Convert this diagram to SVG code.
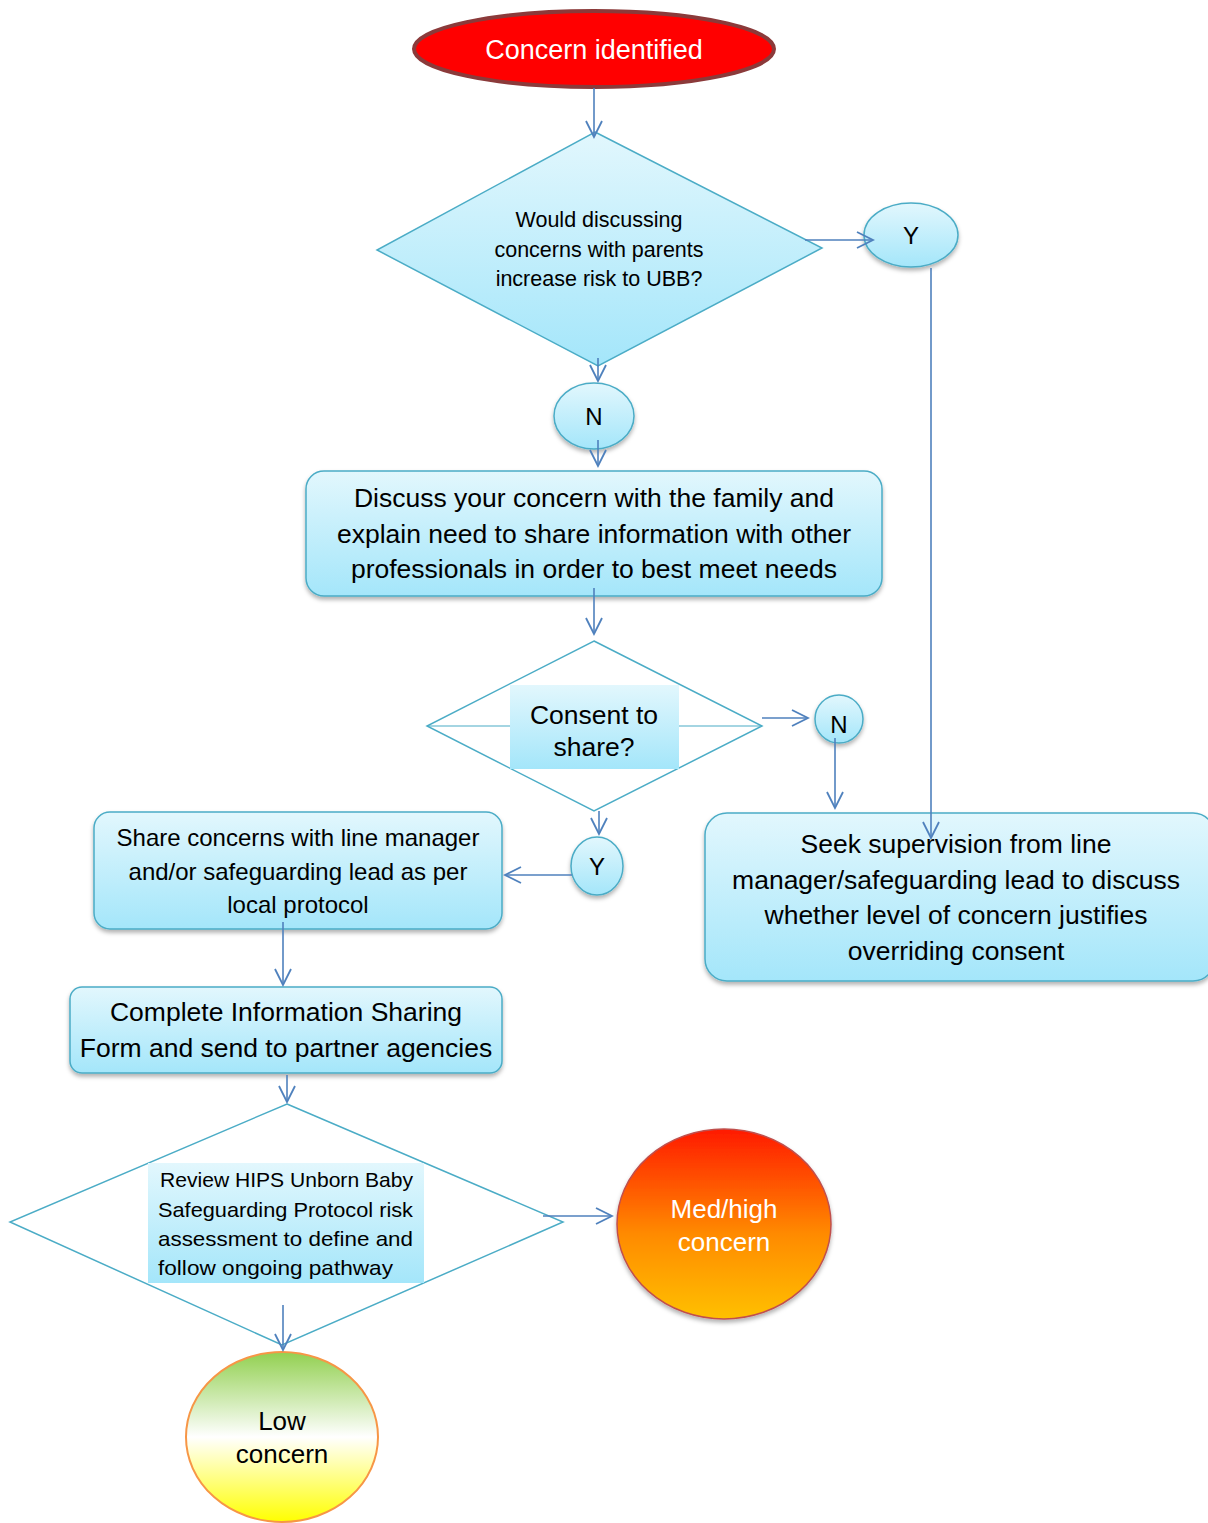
<svg xmlns="http://www.w3.org/2000/svg" width="1208" height="1523" viewBox="0 0 1208 1523">
<defs>
<linearGradient id="cyan" x1="0" y1="0" x2="0" y2="1">
<stop offset="0" stop-color="#E2F7FD"/>
<stop offset="1" stop-color="#A4E6FA"/>
</linearGradient>
<linearGradient id="hot" x1="0" y1="0" x2="0" y2="1">
<stop offset="0" stop-color="#FF1A00"/>
<stop offset="0.55" stop-color="#FF8A00"/>
<stop offset="1" stop-color="#FFC000"/>
</linearGradient>
<linearGradient id="low" x1="0" y1="0" x2="0" y2="1">
<stop offset="0" stop-color="#92D050"/>
<stop offset="0.5" stop-color="#FFFFFF"/>
<stop offset="1" stop-color="#FFFF00"/>
</linearGradient>
<filter id="sh" x="-10%" y="-10%" width="120%" height="130%">
<feDropShadow dx="0" dy="3" stdDeviation="2" flood-color="#000" flood-opacity="0.3"/>
</filter>
<marker id="ah" viewBox="0 0 20 20" refX="18" refY="10" markerWidth="20" markerHeight="20" markerUnits="userSpaceOnUse" orient="auto">
<path d="M2,2 L18,10 L2,18" fill="none" stroke="#4F81BD" stroke-width="1.8"/>
</marker>
<style>
.box{fill:url(#cyan);stroke:#4BACC6;stroke-width:1.5;filter:url(#sh)}
.dia{fill:#fff;stroke:#4BACC6;stroke-width:1.5}
.c{stroke:#4F81BD;stroke-width:1.6;fill:none;marker-end:url(#ah)}
text{font-family:"Liberation Sans",Arial,sans-serif;fill:#000;text-anchor:middle}
.t26{font-size:26.5px}
.t24{font-size:24px}
.t20{font-size:21.5px}
.t21{font-size:21px;text-anchor:start}
</style>
</defs>

<g id="concern-identified">
<ellipse cx="594" cy="49" rx="180" ry="38" fill="#FF0000" stroke="#8B3A3A" stroke-width="4"/>
<text x="594" y="59" font-size="27" style="fill:#fff">Concern identified</text>
</g>

<g id="decision-risk">
<polygon points="595,132 822,248 598,366 377,250" fill="url(#cyan)" stroke="#4BACC6" stroke-width="1.5"/>
<text class="t20" x="599" y="227">Would discussing</text>
<text class="t20" x="599" y="257">concerns with parents</text>
<text class="t20" x="599" y="286">increase risk to UBB?</text>
</g>

<g id="y1">
<ellipse cx="911" cy="235" rx="47" ry="32" class="box"/>
<text class="t24" x="911" y="244">Y</text>
</g>

<g id="n1">
<ellipse cx="594" cy="416" rx="40" ry="33" class="box"/>
<text class="t24" x="594" y="425">N</text>
</g>

<g id="discuss-family">
<rect x="306" y="471" width="576" height="125" rx="18" class="box"/>
<text class="t26" x="594" y="507">Discuss your concern with the family and</text>
<text class="t26" x="594" y="543">explain need to share information with other</text>
<text class="t26" x="594" y="578">professionals in order to best meet needs</text>
</g>

<g id="decision-consent">
<polygon points="594,641 762,726 594,811 427,726" class="dia"/>
<line x1="427" y1="726" x2="762" y2="726" stroke="#4BACC6" stroke-width="1.2"/>
<rect x="510" y="685" width="169" height="84" fill="url(#cyan)"/>
<text class="t26" x="594" y="724">Consent to</text>
<text class="t26" x="594" y="756">share?</text>
</g>

<g id="n2">
<circle cx="839" cy="719" r="24" class="box"/>
<text class="t24" x="839" y="733">N</text>
</g>

<g id="y2">
<ellipse cx="597" cy="866" rx="26" ry="29" class="box"/>
<text class="t24" x="597" y="875">Y</text>
</g>

<g id="share-concerns">
<rect x="94" y="812" width="408" height="117" rx="16" class="box"/>
<text class="t24" x="298" y="846">Share concerns with line manager</text>
<text class="t24" x="298" y="880">and/or safeguarding lead as per</text>
<text class="t24" x="298" y="913">local protocol</text>
</g>

<g id="seek-supervision">
<rect x="705" y="813" width="510" height="168" rx="22" class="box"/>
<text class="t26" x="956" y="853">Seek supervision from line</text>
<text class="t26" x="956" y="889">manager/safeguarding lead to discuss</text>
<text class="t26" x="956" y="924">whether level of concern justifies</text>
<text class="t26" x="956" y="960">overriding consent</text>
</g>

<g id="complete-form">
<rect x="70" y="987" width="432" height="86" rx="12" class="box"/>
<text class="t26" x="286" y="1021">Complete Information Sharing</text>
<text class="t26" x="286" y="1057">Form and send to partner agencies</text>
</g>

<g id="decision-review">
<polygon points="287,1104 563,1222 282,1345 10,1222" class="dia"/>
<rect x="148" y="1163" width="276" height="120" fill="url(#cyan)"/>
<text class="t21" x="160" y="1187" textLength="253" lengthAdjust="spacingAndGlyphs">Review HIPS Unborn Baby</text>
<text class="t21" x="158" y="1217" textLength="255" lengthAdjust="spacingAndGlyphs">Safeguarding Protocol risk</text>
<text class="t21" x="158" y="1246" textLength="255" lengthAdjust="spacingAndGlyphs">assessment to define and</text>
<text class="t21" x="158" y="1275" textLength="235" lengthAdjust="spacingAndGlyphs">follow ongoing pathway</text>
</g>

<g id="med-high">
<ellipse cx="724" cy="1224" rx="107" ry="95" fill="url(#hot)" stroke="#C0504D" stroke-width="1.5" filter="url(#sh)"/>
<text x="724" y="1218" font-size="26" style="fill:#fff">Med/high</text>
<text x="724" y="1251" font-size="26" style="fill:#fff">concern</text>
</g>

<g id="low-concern">
<ellipse cx="282" cy="1437" rx="96" ry="85" fill="url(#low)" stroke="#F79646" stroke-width="2"/>
<text x="282" y="1430" font-size="26">Low</text>
<text x="282" y="1463" font-size="26">concern</text>
</g>

<g id="connectors">
<line x1="594" y1="88" x2="594" y2="137" class="c"/>
<line x1="805" y1="240" x2="873" y2="240" class="c"/>
<polyline points="931,268 931,838" class="c"/>
<line x1="598" y1="358" x2="598" y2="381" class="c"/>
<line x1="598" y1="440" x2="598" y2="466" class="c"/>
<line x1="594" y1="588" x2="594" y2="634" class="c"/>
<line x1="762" y1="718" x2="808" y2="718" class="c"/>
<line x1="835" y1="738" x2="835" y2="808" class="c"/>
<line x1="599" y1="811" x2="599" y2="834" class="c"/>
<line x1="572" y1="875" x2="505" y2="875" class="c"/>
<line x1="283" y1="922" x2="283" y2="985" class="c"/>
<line x1="287" y1="1075" x2="287" y2="1102" class="c"/>
<line x1="543" y1="1216" x2="612" y2="1216" class="c"/>
<line x1="283" y1="1305" x2="283" y2="1350" class="c"/>
</g>
</svg>
